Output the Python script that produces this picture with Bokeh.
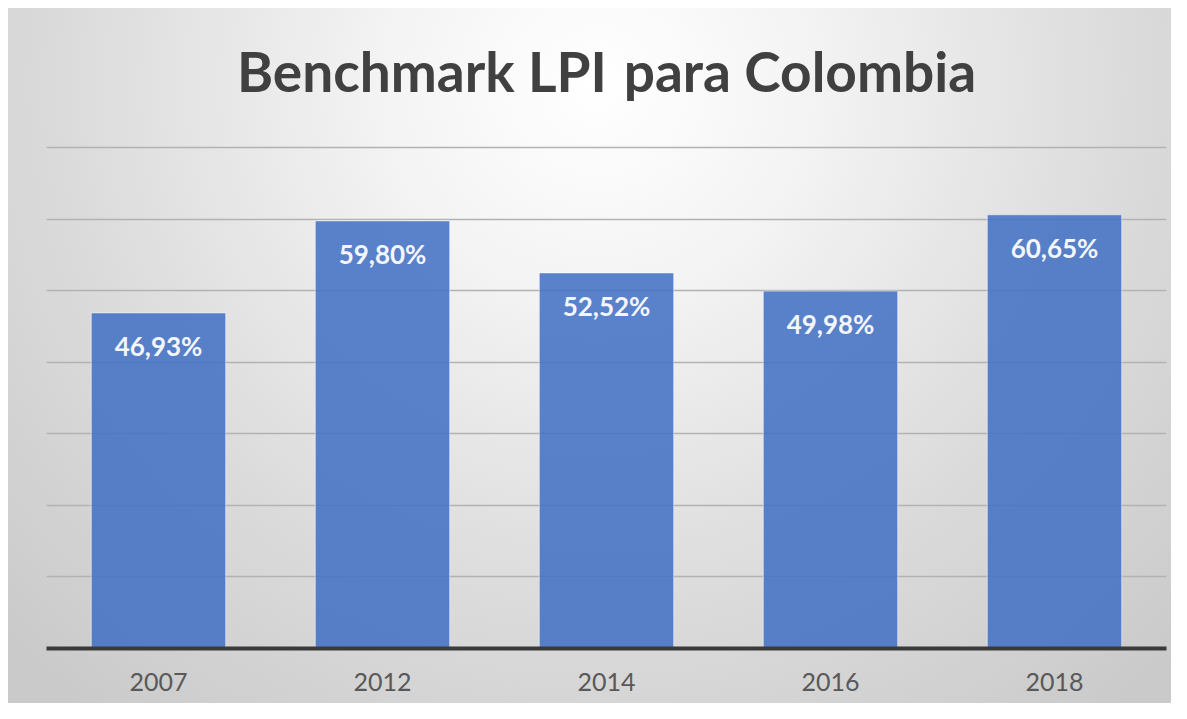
from bokeh.plotting import figure
from bokeh.models import ColumnDataSource, LabelSet, FixedTicker, FactorRange, Range1d
from bokeh.core.properties import value
from bokeh.embed import file_html
from bokeh.resources import INLINE

years = ["2007", "2012", "2014", "2016", "2018"]
values = [46.93, 59.80, 52.52, 49.98, 60.65]
labels = ["46,93%", "59,80%", "52,52%", "49,98%", "60,65%"]
grid_ticks = [10, 20, 30, 40, 50, 60, 70]
title_text = "Benchmark LPI \u200apara Colombia"

src = ColumnDataSource(dict(year=years, value=values, label=labels))

# value axis: 0-70 % shown with gridlines; upper part of the range holds the title
p = figure(width=1171, height=703, x_range=FactorRange(*years, range_padding=0),
           y_range=Range1d(0, 89.5), output_backend="svg", toolbar_location=None,
           title=None,
           min_border_left=46, min_border_right=5, min_border_top=8, min_border_bottom=55)

p.styles = {"background": (
    "linear-gradient(to right, #ffffff 8px, rgba(255,255,255,0) 8px), "
    "linear-gradient(to bottom, #ffffff 8px, rgba(255,255,255,0) 8px), "
    "radial-gradient(ellipse 70% 115% at 51% 12%, #ffffff 0%, #f4f4f4 25%, #dbdbdb 65%, #cacaca 100%)")}
p.background_fill_color = None
p.border_fill_color = None
p.outline_line_color = None

p.vbar(x="year", top="value", width=0.6, source=src, fill_color="#4472c4", fill_alpha=0.88,
       line_color="#ffffff", line_alpha=0.5, line_width=1)

labs = LabelSet(x="year", y="value", text="label", source=src, y_offset=-33,
                text_align="center", text_baseline="middle", text_color="#f4f6fb",
                text_font=value("Lato"), text_font_style="bold", text_font_size="26px")
p.add_layout(labs)

p.text(x=[years[2]], y=[80.7], text=[title_text], text_align="center",
       text_baseline="alphabetic", text_font=value("Lato"), text_font_style="bold",
       text_font_size="55px", text_color="#404040")

p.yaxis.visible = False
p.ygrid.ticker = FixedTicker(ticks=grid_ticks)
p.ygrid.grid_line_color = "#b2b2b2"
p.ygrid.grid_line_width = 1.5
p.ygrid.level = "underlay"
p.xgrid.visible = False

ax = p.xaxis[0]
ax.axis_line_color = "#3a3a3a"
ax.axis_line_width = 4
ax.major_tick_line_color = None
ax.minor_tick_line_color = None
ax.major_tick_in = 0
ax.major_tick_out = 0
ax.major_label_standoff = 24
ax.major_label_text_font = "Lato"
ax.major_label_text_font_size = "25px"
ax.major_label_text_color = "#595959"

open("out.html", "w").write(file_html(p, INLINE))
